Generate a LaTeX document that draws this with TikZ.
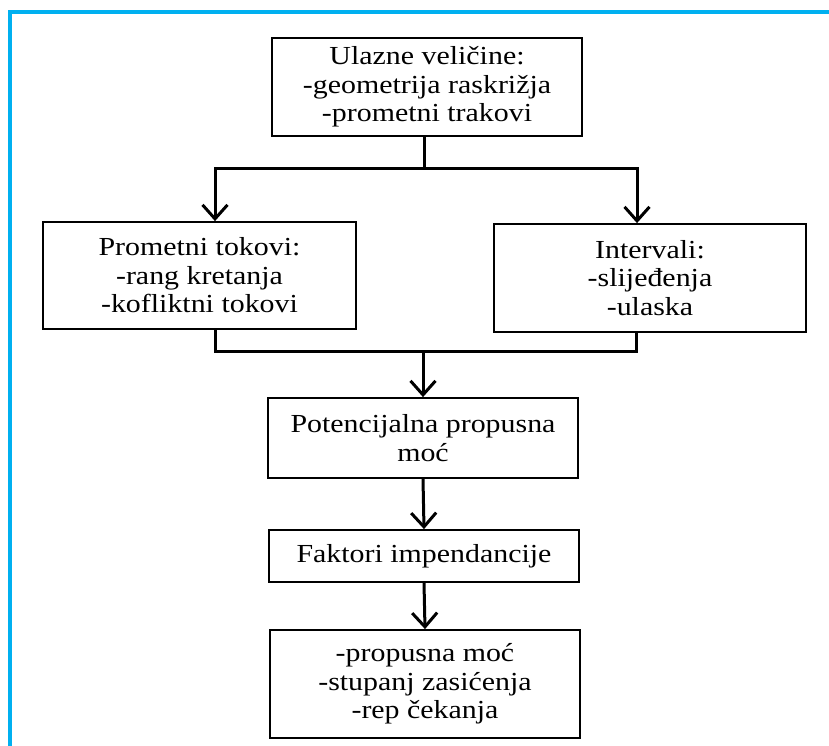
\documentclass[tikz,border=0pt]{standalone}
\usepackage{fontspec}
\setmainfont{Liberation Serif}[FakeStretch=1.15]
\usetikzlibrary{arrows.meta}
\definecolor{framecol}{HTML}{00B0F0}
\begin{document}
\begin{tikzpicture}[x=1pt,y=-1pt,
  box/.style={draw, line width=1.8pt, align=center, inner sep=0pt,
    font=\fontsize{26}{28.5}\selectfont},
  conn/.style={line width=3pt, line join=miter},
  arr/.style={conn, -{Straight Barb[length=14pt,width=25pt,line width=3pt]}}
]
\useasboundingbox (0,0) rectangle (829,746);
\draw[framecol, line width=4pt] (10,746) -- (10,12) -- (829,12);

\node[box, minimum width=310pt, minimum height=98pt] (ulaz) at (427,87)
  {Ulazne veličine:\\-geometrija raskrižja\\-prometni trakovi};
\node[box, minimum width=313pt, minimum height=107pt] (tok) at (199.5,275.5)
  {Prometni tokovi:\\-rang kretanja\\-kofliktni tokovi};
\node[box, minimum width=312pt, minimum height=108pt] (int) at (650,278)
  {Intervali:\\-slijeđenja\\-ulaska};
\node[box, minimum width=310pt, minimum height=80pt] (pot) at (423,438)
  {Potencijalna propusna\\moć};
\node[box, minimum width=310pt, minimum height=52pt] (fak) at (424,556)
  {Faktori impendancije};
\node[box, minimum width=310pt, minimum height=108pt] (rez) at (425,684)
  {-propusna moć\\-stupanj zasićenja\\-rep čekanja};

\coordinate (s1) at (424,169);
\coordinate (s2) at (423,351);

\draw[conn] ([xshift=-3pt]ulaz.south) -- (s1);
\draw[arr] (s1) -| ([xshift=15.5pt]tok.north);
\draw[arr] (s1) -| ([xshift=-13pt]int.north);

\draw[conn] ([xshift=15.5pt]tok.south) |- (s2);
\draw[conn] ([xshift=-14pt]int.south) |- (s2);
\draw[arr] (s2) -- (pot.north);
\draw[arr] (pot.south) -- (fak.north);
\draw[arr] (fak.south) -- (rez.north);
\end{tikzpicture}
\end{document}
